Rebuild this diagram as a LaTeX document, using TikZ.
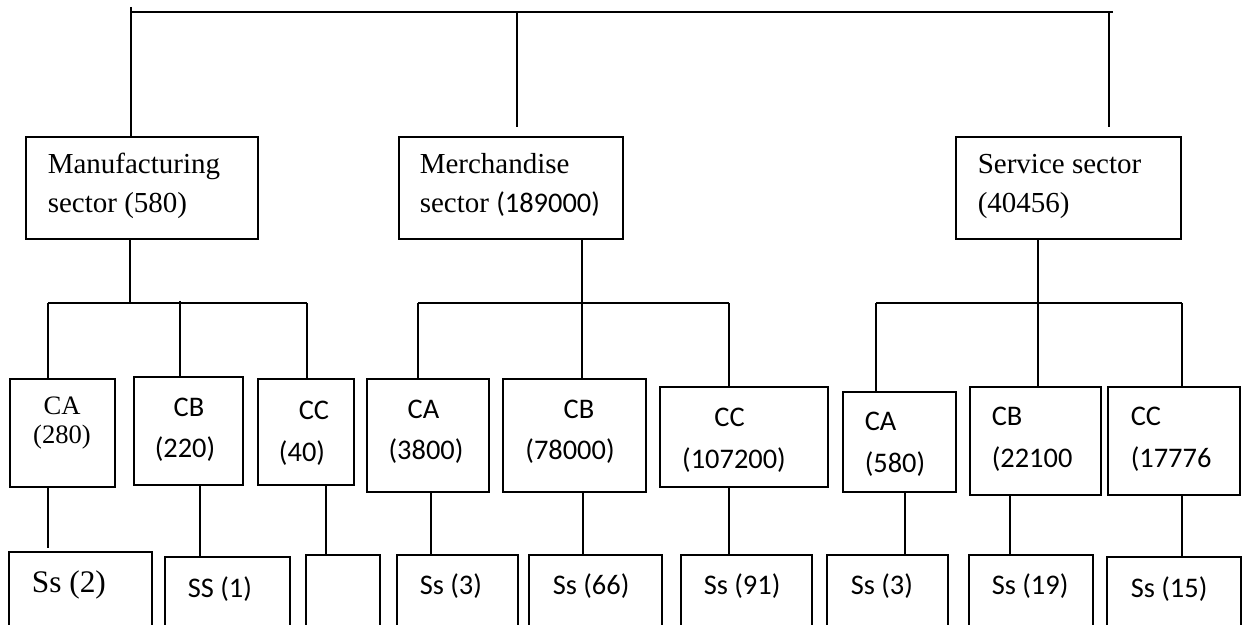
\documentclass[tikz,border=0pt]{standalone}
\usepackage{fontspec}
\setmainfont{Liberation Serif}
\newfontfamily\calfont{Carlito}
\usetikzlibrary{fit}
\tikzset{
  box/.style={draw, inner sep=0pt, rectangle},
  obox/.style={inner sep=0pt, rectangle},
  ts/.style={inner sep=0pt, font=\fontsize{14.5}{17}\selectfont},
  tsm/.style={inner sep=0pt, font=\fontsize{13.3}{16}\selectfont},
  tsb/.style={inner sep=0pt, font=\fontsize{15.7}{18}\selectfont},
  cs/.style={inner sep=0pt, font=\calfont\fontsize{14.2}{17}\selectfont},
}
\begin{document}
\begin{tikzpicture}[x=0.5pt,y=-0.5pt,line width=0.8pt]
\useasboundingbox (0,0) rectangle (1246,625);
% sector boxes
\node[box, fit={(26,137) (258,239)}] (mfg) {};
\node[box, fit={(399,137) (623,239)}] (merch) {};
\node[box, fit={(956,137) (1181,239)}] (serv) {};
% middle boxes
\node[box, fit={(10,379) (115,487)}] (mCA) {};
\node[box, fit={(134,377) (243,485)}] (mCB) {};
\node[box, fit={(258,379) (354,485)}] (mCC) {};
\node[box, fit={(367,379) (489,492)}] (eCA) {};
\node[box, fit={(503,379) (646,492)}] (eCB) {};
\node[box, fit={(660,387) (828,487)}] (eCC) {};
\node[box, fit={(843,392) (956,492)}] (sCA) {};
\node[box, fit={(970,387) (1101,495)}] (sCB) {};
\node[box, fit={(1108,387) (1240,495)}] (sCC) {};
% bottom open boxes
\node[obox, fit={(10,553) (151,626)}] (mS1) {};
\node[obox, fit={(166,558) (289,626)}] (mS2) {};
\node[obox, fit={(307,556) (379,626)}] (mS3) {};
\node[obox, fit={(398,556) (517,626)}] (eS1) {};
\node[obox, fit={(530,556) (661,626)}] (eS2) {};
\node[obox, fit={(682,556) (811,626)}] (eS3) {};
\node[obox, fit={(828,556) (947,626)}] (sS1) {};
\node[obox, fit={(970,556) (1092,626)}] (sS2) {};
\node[obox, fit={(1108,558) (1240,626)}] (sS3) {};
\foreach \n in {mS1,mS2,mS3,eS1,eS2,eS3,sS1,sS2,sS3}
  \draw (\n.south west) -- (\n.north west) -- (\n.north east) -- (\n.south east);
% texts: sectors
\node[ts, anchor=base west] (tmfg1) at (47,174) {Manufacturing};
\node[ts, anchor=base west] (tmfg2) at (47,213) {sector (580)};
\node[ts, anchor=base west] (tme1) at (419,174) {Merchandise};
\node[ts, anchor=base west] (tme2) at (419,213) {sector {\calfont\fontsize{14.2}{17}\selectfont(189000)}};
\node[ts, anchor=base west] (tse1) at (977,174) {Service sector};
\node[ts, anchor=base west] (tse2) at (977,213) {(40456)};
% texts: middle
\node[tsm, anchor=base] (tmCA1) at (62,414) {CA};
\node[tsm, anchor=base] (tmCA2) at (62,443) {(280)};
\node[cs, anchor=base] (tmCB1) at (189,416) {CB};
\node[cs, anchor=base] (tmCB2) at (185,457) {(220)};
\node[cs, anchor=base] (tmCC1) at (314,419) {CC};
\node[cs, anchor=base] (tmCC2) at (302,461) {(40)};
\node[cs, anchor=base] (teCA1) at (423.5,418) {CA};
\node[cs, anchor=base] (teCA2) at (426,459) {(3800)};
\node[cs, anchor=base] (teCB1) at (579,418) {CB};
\node[cs, anchor=base] (teCB2) at (570,459) {(78000)};
\node[cs, anchor=base] (teCC1) at (729.5,426) {CC};
\node[cs, anchor=base] (teCC2) at (734,468) {(107200)};
\node[cs, anchor=base west] (tsCA1) at (864,430) {CA};
\node[cs, anchor=base west] (tsCA2) at (864,472) {(580)};
\node[cs, anchor=base west] (tsCB1) at (991,425) {CB};
\node[cs, anchor=base west] (tsCB2) at (991,467) {(22100};
\node[cs, anchor=base west] (tsCC1) at (1130,425) {CC};
\node[cs, anchor=base west] (tsCC2) at (1130,467) {(17776};
% texts: bottom
\node[tsb, anchor=base west] (tmS1) at (31,592) {Ss (2)};
\node[cs, anchor=base west] (tmS2) at (187,597) {SS (1)};
\node[cs, anchor=base west] (teS1) at (419,594) {Ss (3)};
\node[cs, anchor=base west] (teS2) at (552,594) {Ss (66)};
\node[cs, anchor=base west] (teS3) at (703,594) {Ss (91)};
\node[cs, anchor=base west] (tsS1) at (850,594) {Ss (3)};
\node[cs, anchor=base west] (tsS2) at (991,594) {Ss (19)};
\node[cs, anchor=base west] (tsS3) at (1130,597) {Ss (15)};
% top connectors
\coordinate (t0) at (131,7);
\coordinate (tl) at (131,12);
\coordinate (tr) at (1113,12);
\coordinate (tm) at (517,12);
\coordinate (tme) at (517,127);
\coordinate (trv) at (1109,12);
\coordinate (trve) at (1109,127);
\draw (t0) -- (t0 |- mfg.north);
\draw (tl) -- (tr);
\draw (tm) -- (tme);
\draw (trv) -- (trve);
% manufacturing connectors
\coordinate (mb) at (130,303);
\coordinate (mbl) at (48,303);
\coordinate (mbr) at (307,303);
\coordinate (mbc) at (180,301);
\draw (mfg.south -| mb) -- (mb);
\draw (mbl) -- (mbr);
\draw (mbl) -- (mbl |- mCA.north);
\draw (mbc) -- (mbc |- mCB.north);
\draw (mbr) -- (mbr |- mCC.north);
\coordinate (m1) at (48,548);
\coordinate (m2) at (200,0);
\coordinate (m3) at (326,0);
\draw (m1 |- mCA.south) -- (m1);
\draw (m2 |- mCB.south) -- (m2 |- mS2.north);
\draw (m3 |- mCC.south) -- (m3 |- mS3.north);
% merchandise connectors
\coordinate (eb) at (582,0);
\coordinate (ebl) at (418,303);
\coordinate (ebr) at (729,303);
\draw (eb |- merch.south) -- (eb |- eCB.north);
\draw (ebl) -- (ebr);
\draw (ebl) -- (ebl |- eCA.north);
\draw (ebr) -- (ebr |- eCC.north);
\coordinate (e1) at (431,0);
\coordinate (e2) at (583,0);
\coordinate (e3) at (729,0);
\draw (e1 |- eCA.south) -- (e1 |- eS1.north);
\draw (e2 |- eCB.south) -- (e2 |- eS2.north);
\draw (e3 |- eCC.south) -- (e3 |- eS3.north);
% service connectors
\coordinate (sb) at (1038,0);
\coordinate (sbl) at (876,303);
\coordinate (sbr) at (1182,303);
\draw (sb |- serv.south) -- (sb |- sCB.north);
\draw (sbl) -- (sbr);
\draw (sbl) -- (sbl |- sCA.north);
\draw (sbr) -- (sbr |- sCC.north);
\coordinate (s1) at (905,0);
\coordinate (s2) at (1010,0);
\coordinate (s3) at (1182,0);
\draw (s1 |- sCA.south) -- (s1 |- sS1.north);
\draw (s2 |- sCB.south) -- (s2 |- sS2.north);
\draw (s3 |- sCC.south) -- (s3 |- sS3.north);
\end{tikzpicture}
\end{document}
